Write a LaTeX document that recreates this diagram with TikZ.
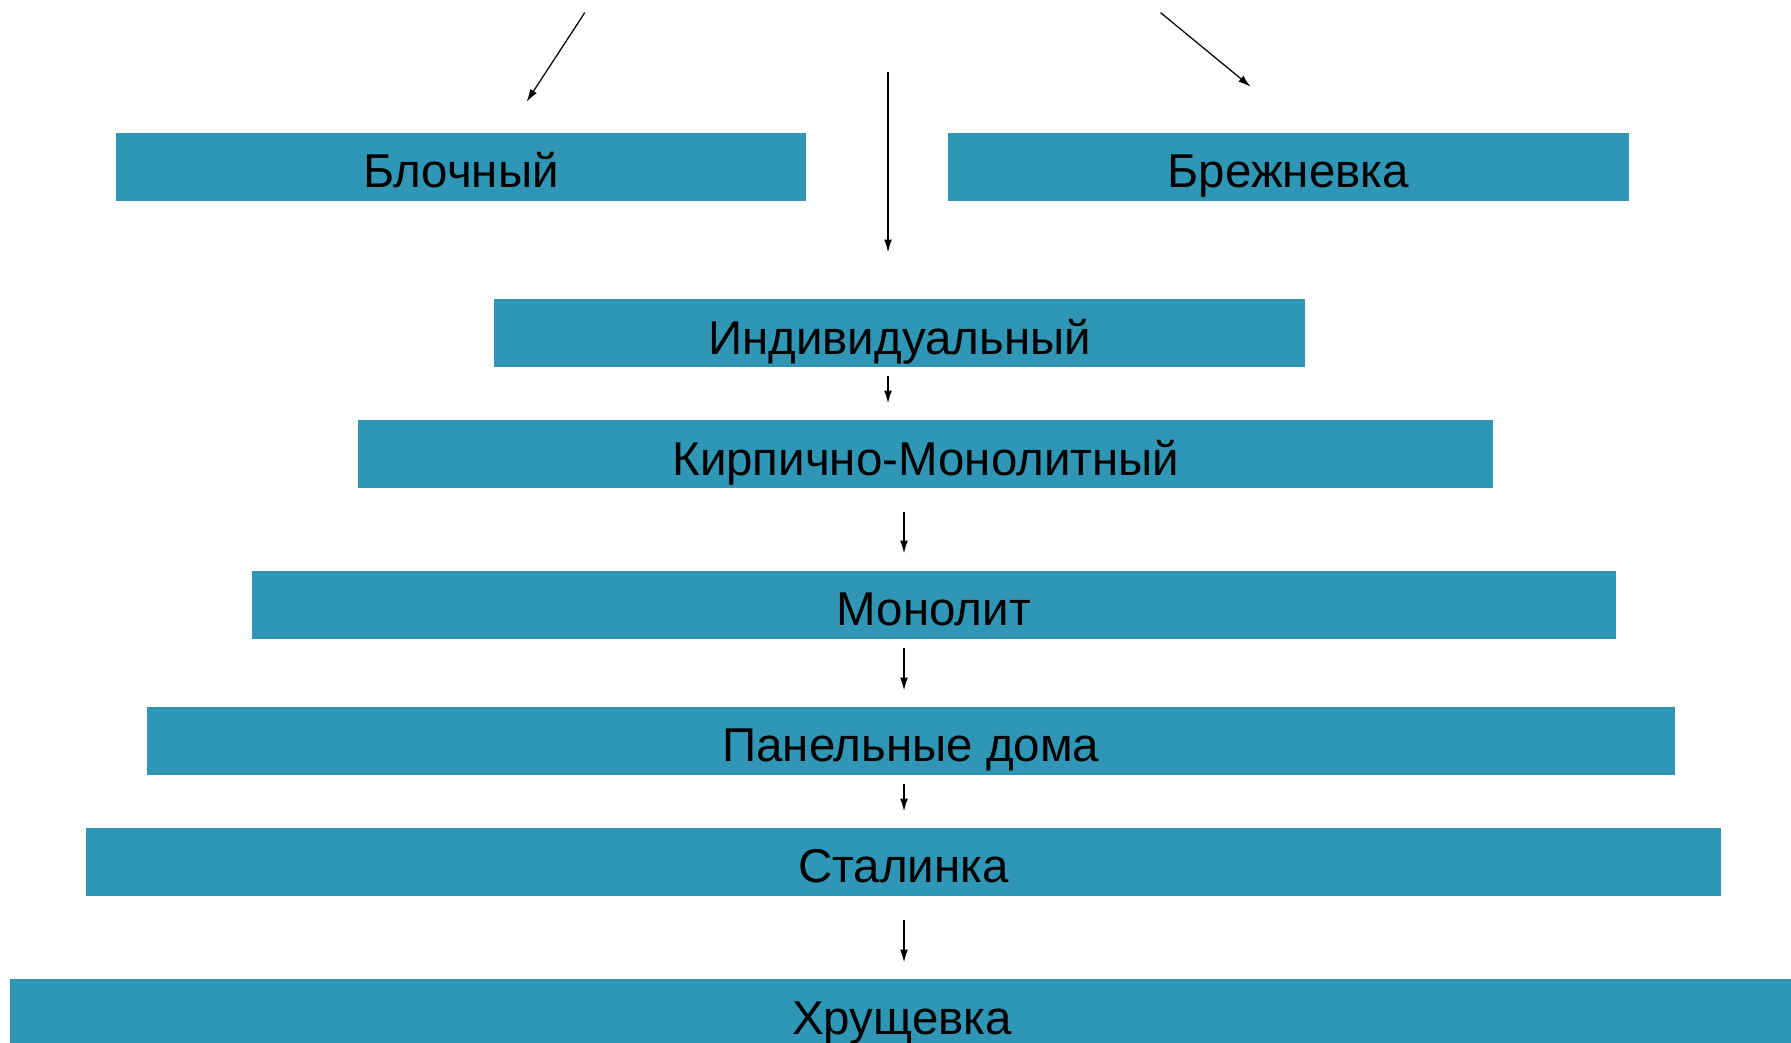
\documentclass[tikz,border=0pt]{standalone}
\usepackage{fontspec}
\setmainfont{Liberation Sans}
\usetikzlibrary{arrows.meta}
\definecolor{boxblue}{HTML}{2F97B5}
\tikzset{box/.style={fill=boxblue, inner sep=0pt, minimum height=0.68cm,
    text height=11.95pt, text depth=0pt, font=\fontsize{13.5}{16}\selectfont},
  arr/.style={line width=0.35pt, -{Latex[length=3.6pt,width=2.2pt]}}}
\begin{document}
\begin{tikzpicture}[x=0.01cm,y=-0.01cm]
\useasboundingbox (0,0) rectangle (1791,1042);
\clip (0,0) rectangle (1791,1042);
% edit here for the boxes: name/x/y/width/text
\foreach \nm/\cx/\cy/\w/\texto in {blok/460.9/166.8/6.888/{Блочный},
  brezh/1288.4/166.8/6.808/{Брежневка},
  ind/899.5/333/8.098/{Индивидуальный},
  kirp/925.8/454/11.342/{Кирпично-Монолитный},
  mon/933.8/604.8/13.627/{Монолит},
  pan/910.9/740.7/15.272/{Панельные дома},
  stal/903.5/861.8/16.334/{Сталинка},
  khr/902/1013/17.82/{Хрущевка}}
\node[box, minimum width=\w cm] (\nm) at (\cx,\cy) {\texto};
\coordinate (lftA) at (584.8,12.6);
\coordinate (lftB) at (526.6,101.7);
\coordinate (rgtA) at (1160.5,12.6);
\coordinate (rgtB) at (1250.7,86.8);
\coordinate (midA) at (888,72);
\coordinate (midB) at (904,0);
\draw[arr] (lftA) -- (lftB);
\draw[arr] (rgtA) -- (rgtB);
\draw[arr, shorten >=0.46cm] (midA) -- (ind.north -| midA);
% edit here for the arrows between the boxes
\foreach \a/\b/\ax/\s/\e in {ind/kirp/midA/0.08/0.16, kirp/mon/midB/0.23/0.168,
  mon/pan/midB/0.082/0.157, pan/stal/midB/0.083/0.158, stal/khr/midB/0.232/0.16}
\draw[arr, shorten <=\s cm, shorten >=\e cm] (\a.south -| \ax) -- (\b.north -| \ax);
\end{tikzpicture}
\end{document}
